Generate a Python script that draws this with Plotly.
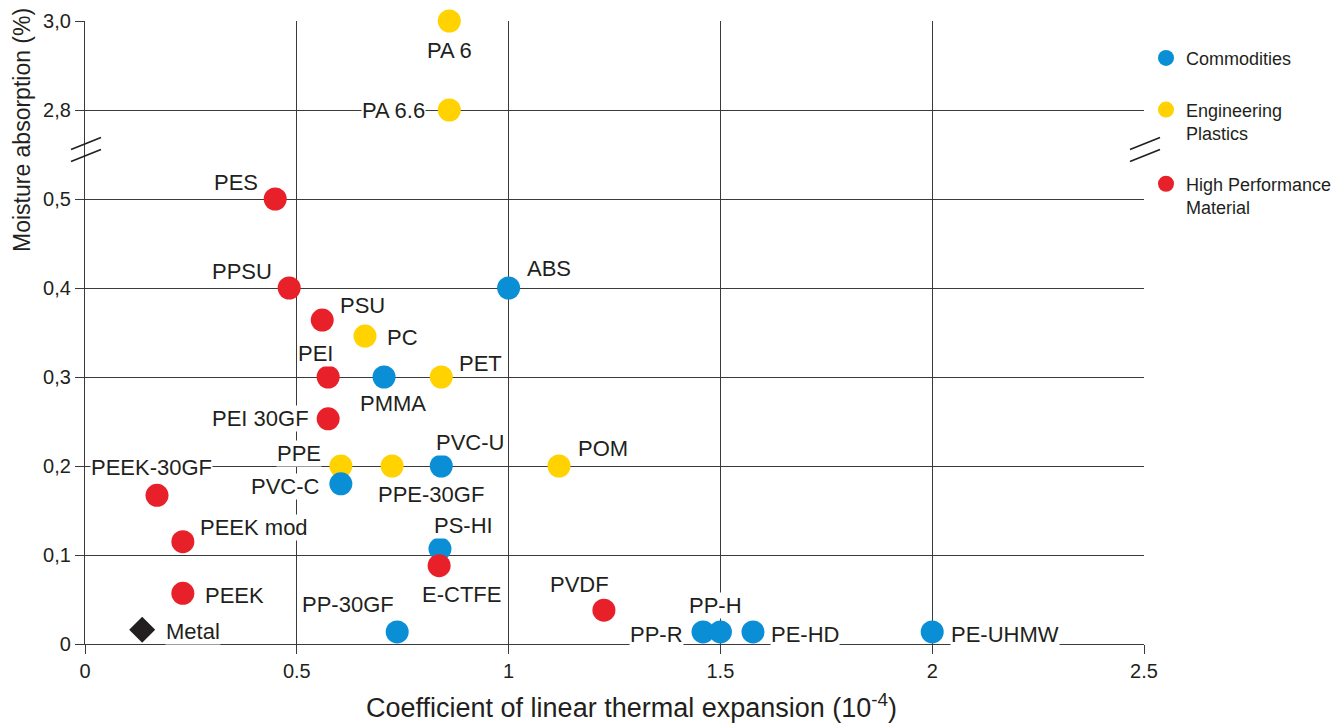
import plotly.graph_objects as go

# ---------------- data ----------------
materials = ["PA 6", "PA 6.6", "PES", "PPSU", "PSU", "PC", "PEI", "PMMA", "PET", "ABS",
             "PEI 30GF", "PPE", "PPE-30GF", "PVC-U", "POM", "PVC-C", "PEEK-30GF", "PEEK mod",
             "PS-HI", "E-CTFE", "PEEK", "PVDF", "PP-30GF", "PP-R", "PP-H", "PE-HD", "PE-UHMW"]
cte = [0.86, 0.86, 0.449, 0.482, 0.56, 0.661, 0.574, 0.706, 0.841, 1.0,
       0.574, 0.604, 0.725, 0.841, 1.119, 0.604, 0.17, 0.231,
       0.838, 0.836, 0.231, 1.225, 0.737, 1.459, 1.50, 1.577, 2.0]
moisture = [3.0, 2.8, 0.5, 0.4, 0.364, 0.346, 0.3, 0.3, 0.3, 0.4,
            0.253, 0.2, 0.2, 0.2, 0.2, 0.18, 0.167, 0.115,
            0.107, 0.088, 0.057, 0.038, 0.0135, 0.0135, 0.0135, 0.0135, 0.0135]
category = ["Engineering", "Engineering", "High", "High", "High", "Engineering", "High", "Commodities",
            "Engineering", "Commodities", "High", "Engineering", "Engineering", "Commodities",
            "Engineering", "Commodities", "High", "High", "Commodities", "High", "High", "High",
            "Commodities", "Commodities", "Commodities", "Commodities", "Commodities"]
metal_name = ["Metal"]
metal_cte = [0.135]
metal_moisture = [0.016]

x_ticks = [0, 0.5, 1, 1.5, 2, 2.5]
x_tick_labels = ["0", "0.5", "1", "1.5", "2", "2.5"]
y_ticks = [0, 0.1, 0.2, 0.3, 0.4, 0.5, 2.8, 3.0]
y_tick_labels = ["0", "0,1", "0,2", "0,3", "0,4", "0,5", "2,8", "3,0"]

# ---------------- style ----------------
cat_names = {"Commodities": "Commodities",
             "Engineering": "Engineering<br>Plastics",
             "High": "High Performance<br>Material"}
cat_colors = {"Commodities": "#0A8FD6", "Engineering": "#FFD200", "High": "#E8202A"}
draw_order = ["Engineering", "Commodities", "High"]
legend_ids = {"Commodities": "legend", "Engineering": "legend2", "High": "legend3"}
legend_y = {"Commodities": 0.97, "Engineering": 0.887, "High": 0.768}

# label placement: (xanchor, dx px, dy px downward)
label_pos = {
    "PA 6": ("center", 0, 29), "PA 6.6": ("right", -23, 0), "PES": ("right", -16, -17),
    "PPSU": ("right", -16, -17), "PSU": ("left", 17, -15), "PC": ("left", 21, 1),
    "PEI": ("center", -13, -24), "PMMA": ("center", 9, 26), "PET": ("left", 17, -14),
    "ABS": ("left", 17, -20), "PEI 30GF": ("right", -18, 0), "PPE": ("right", -19, -13),
    "PPE-30GF": ("left", -15, 28), "PVC-U": ("left", -6, -24), "POM": ("left", 18, -18),
    "PVC-C": ("right", -20, 3), "PEEK-30GF": ("right", 56, -28), "PEEK mod": ("left", 16, -14),
    "PS-HI": ("left", -7, -23), "E-CTFE": ("left", -18, 29), "PEEK": ("left", 21, 2),
    "PVDF": ("center", -24, -26), "PP-30GF": ("right", -2, -27), "PP-R": ("right", -19, 3),
    "PP-H": ("center", -5, -26), "PE-HD": ("left", 17, 3), "PE-UHMW": ("left", 18, 3),
    "Metal": ("left", 23, 2),
}

TEXT = "#231F20"
GRID = "#3A3A3A"
FONT = "Liberation Sans, Arial, Helvetica, sans-serif"

BREAK_LO, BREAK_HI = 0.5, 2.8


def ymap(v):
    """Broken y axis: linear up to 0.5, then 2.8-3.0 compressed at half scale."""
    if v <= BREAK_LO:
        return v
    return 0.6 + (v - BREAK_HI) / 2.0


fig = go.Figure()

for cat in draw_order:
    idx = [i for i, c in enumerate(category) if c == cat]
    fig.add_trace(go.Scatter(
        x=[cte[i] for i in idx],
        y=[ymap(moisture[i]) for i in idx],
        text=[materials[i] for i in idx],
        mode="markers",
        name=cat_names[cat],
        legend=legend_ids[cat],
        marker=dict(size=23, color=cat_colors[cat], line=dict(width=0)),
        cliponaxis=False,
        hovertemplate="%{text}<extra></extra>",
    ))

fig.add_trace(go.Scatter(
    x=metal_cte, y=[ymap(v) for v in metal_moisture], text=metal_name,
    mode="markers", showlegend=False,
    marker=dict(size=20, symbol="diamond", color=TEXT, line=dict(width=0)),
    cliponaxis=False, hovertemplate="%{text}<extra></extra>",
))

annotations = []
all_names = materials + metal_name
all_x = cte + metal_cte
all_y = moisture + metal_moisture
for n, xv, yv in zip(all_names, all_x, all_y):
    anc, dx, dy = label_pos[n]
    annotations.append(dict(
        x=xv, y=ymap(yv), xref="x", yref="y", text=n, showarrow=False,
        xanchor=anc, yanchor="middle", xshift=dx, yshift=-dy,
        font=dict(family=FONT, size=22, color=TEXT),
        bgcolor="white", borderpad=0,
    ))

# axis titles
annotations.append(dict(
    xref="paper", yref="paper", x=0.5165, y=-0.1, xanchor="center", yanchor="middle",
    text="Coefficient of linear thermal expansion (10<sup>-4</sup>)", showarrow=False,
    font=dict(family=FONT, size=27, color=TEXT)))
annotations.append(dict(
    xref="paper", yref="paper", x=-0.0595, y=0.825, xanchor="center", yanchor="middle",
    text="Moisture absorption (%)", textangle=-90, showarrow=False,
    font=dict(family=FONT, size=23, color=TEXT)))

# axis-break marks on left and right edges
ymax = ymap(3.0)
brk = ((ymap(BREAK_LO) + ymap(BREAK_HI)) / 2) / ymax
shapes = []
for xp in (0, 1):
    for y0, y1 in ((5, 17), (-7, 5)):
        shapes.append(dict(
            type="line", xref="paper", yref="paper",
            xsizemode="pixel", ysizemode="pixel", xanchor=xp, yanchor=brk,
            x0=-14, x1=16, y0=y0, y1=y1,
            line=dict(color=TEXT, width=1.6)))

legend_common = dict(
    x=1.0019, xanchor="left", yanchor="top", valign="top",
    font=dict(family=FONT, size=18, color=TEXT), bgcolor="rgba(0,0,0,0)",
    itemsizing="trace", traceorder="normal",
)

layout_legends = {}
for cat in ["Commodities", "Engineering", "High"]:
    layout_legends[legend_ids[cat]] = dict(legend_common, y=legend_y[cat])

fig.update_layout(
    width=1336, height=724,
    margin=dict(l=85, r=192, t=21, b=80, autoexpand=False),
    paper_bgcolor="white", plot_bgcolor="white",
    showlegend=True,
    annotations=annotations,
    shapes=shapes,
    **layout_legends,
)

fig.update_xaxes(
    range=[0, 2.5], tickvals=x_ticks, ticktext=x_tick_labels,
    showgrid=True, gridcolor=GRID, gridwidth=1.3, zeroline=False,
    showline=True, linecolor=GRID, linewidth=1.3,
    ticks="outside", ticklen=9, tickcolor=GRID, tickwidth=1.3,
    tickfont=dict(family=FONT, size=20, color=TEXT),
)
fig.update_yaxes(
    range=[0, ymax], tickvals=[ymap(v) for v in y_ticks], ticktext=y_tick_labels,
    showgrid=True, gridcolor=GRID, gridwidth=1.3, zeroline=False,
    showline=True, linecolor=GRID, linewidth=1.3,
    ticks="outside", ticklen=9, tickcolor=GRID, tickwidth=1.3,
    tickfont=dict(family=FONT, size=20, color=TEXT),
)

fig.write_html("out.html", config={"displayModeBar": False},
               post_script="document.body.style.margin='0';")
